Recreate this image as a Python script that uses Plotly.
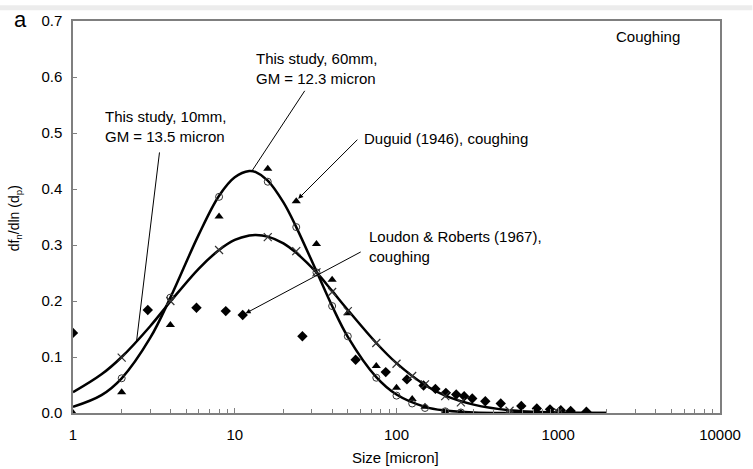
import plotly.graph_objects as go

# ---- fitted curves ----
curve_x = [1, 1.5, 2, 3, 4, 6, 8, 10, 12.3, 13.5, 16, 20, 24, 32, 40, 50, 75, 100, 150, 200, 300, 500, 1000, 2000]
curve_60mm = [0.011, 0.032, 0.062, 0.134, 0.206, 0.319, 0.388, 0.421, 0.432, 0.430, 0.415, 0.376, 0.332, 0.253,
              0.191, 0.136, 0.064, 0.033, 0.011, 0.0045, 0.0011, 0.0001, 0.0, 0.0]
curve_10mm = [0.037, 0.069, 0.100, 0.155, 0.199, 0.258, 0.291, 0.309, 0.317, 0.318, 0.315, 0.303, 0.286, 0.251,
              0.218, 0.184, 0.125, 0.089, 0.050, 0.031, 0.015, 0.005, 0.001, 0.0001]

# ---- measured points ----
study_x = [2, 4, 8, 16, 24, 32, 40, 50, 75, 100, 125, 150, 200, 250, 500, 1000]
study_60mm = [0.062, 0.206, 0.386, 0.413, 0.332, 0.251, 0.191, 0.137, 0.063, 0.031, 0.017, 0.009, 0.003, 0.001, 0.0, 0.0]
study_10mm = [0.099, 0.200, 0.291, 0.314, 0.289, 0.251, 0.216, 0.182, 0.125, 0.088, 0.066, 0.051, 0.030, 0.019, 0.004, 0.001]

duguid_x = [1, 2, 4, 8, 16, 24, 32, 40, 50, 75, 100, 125, 150, 200, 250, 500, 1000]
duguid_y = [0.0, 0.037, 0.157, 0.351, 0.436, 0.378, 0.302, 0.238, 0.178, 0.084, 0.045, 0.025, 0.011, 0.002, 0.0, 0.0, 0.0]

loudon_x = [1, 2.9, 5.8, 8.8, 11.2, 26.2, 55.9, 85.8, 116, 147, 174, 202, 234, 262, 294, 354, 441, 591, 737, 889,
            1037, 1193, 1493]
loudon_y = [0.143, 0.184, 0.188, 0.182, 0.175, 0.137, 0.095, 0.073, 0.060, 0.049, 0.043, 0.036, 0.033, 0.030, 0.026,
            0.021, 0.017, 0.0125, 0.008, 0.0065, 0.005, 0.0035, 0.0023]

y_ticks = [0.0, 0.1, 0.2, 0.3, 0.4, 0.5, 0.6, 0.7]
x_ticks = [1, 10, 100, 1000, 10000]
x_ticklabels = ["1", "10", "100", "1000", "10000"]

FONT = "Arial, Liberation Sans, sans-serif"
AX = "#7f7f7f"

fig = go.Figure()
fig.add_trace(go.Scatter(x=curve_x, y=curve_60mm, mode="lines", line=dict(color="black", width=2.5, shape="spline"),
                         showlegend=False, hoverinfo="skip"))
fig.add_trace(go.Scatter(x=curve_x, y=curve_10mm, mode="lines", line=dict(color="black", width=2.5, shape="spline"),
                         showlegend=False, hoverinfo="skip"))
fig.add_trace(go.Scatter(x=loudon_x, y=loudon_y, mode="markers",
                         marker=dict(symbol="diamond", size=8, color="black"), showlegend=False))
fig.add_trace(go.Scatter(x=duguid_x, y=duguid_y, mode="markers",
                         marker=dict(symbol="triangle-up", size=8, color="black"), showlegend=False))
fig.add_trace(go.Scatter(x=study_x, y=study_60mm, mode="markers",
                         marker=dict(symbol="circle-open", size=7, color="#333", line=dict(width=1)),
                         showlegend=False))
fig.add_trace(go.Scatter(x=study_x, y=study_10mm, mode="markers",
                         marker=dict(symbol="x-thin-open", size=8, color="#333", line=dict(width=1.2)),
                         showlegend=False))

ann_font = dict(family=FONT, size=15, color="black")
texts = [
    ("This study, 10mm,<br>GM = 13.5 micron", 0.183, 0.512),
    ("This study, 60mm,<br>GM = 12.3 micron", 1.120, 0.615),
    ("Duguid (1946), coughing", 1.784, 0.491),
    ("Loudon &amp; Roberts (1967),<br>coughing", 1.820, 0.2965),
    ("Coughing", 3.3425, 0.672),
]
for t, x, y in texts:
    fig.add_annotation(text=t, x=x, y=y, xref="x", yref="y", showarrow=False, xanchor="left", yanchor="middle",
                       align="left", font=ann_font)

# leader lines (tail -> head)
leaders = [
    ((0.5358, 0.468), (0.3915, 0.125), 0),
    ((1.4387, 0.578), (1.108, 0.433), 0),
    ((1.7674, 0.4907), (1.3924, 0.3825), 2),
    ((1.788, 0.289), (1.0673, 0.178), 2),
]
for (tx, ty), (hx, hy), head in leaders:
    fig.add_annotation(text="", x=hx, y=hy, ax=tx, ay=ty, xref="x", yref="y", axref="x", ayref="y",
                       showarrow=True, arrowhead=head, arrowsize=1, arrowwidth=1, arrowcolor="black", standoff=0)

fig.add_annotation(text="a", x=-0.081, y=1.005, xref="paper", yref="paper", showarrow=False,
                   font=dict(family=FONT, size=22, color="black"), xanchor="center", yanchor="middle")
fig.add_annotation(text="df<sub>n</sub>/dln (d<sub>p</sub>)", x=-0.090, y=0.496, xref="paper", yref="paper",
                   showarrow=False, textangle=-90, font=dict(family=FONT, size=14, color="black"),
                   xanchor="center", yanchor="middle")
fig.add_annotation(text="Size [micron]", x=0.498, y=-0.113, xref="paper", yref="paper", showarrow=False,
                   font=dict(family=FONT, size=15, color="black"), xanchor="center", yanchor="middle")

fig.add_shape(type="rect", xref="paper", yref="paper", x0=-0.12, x1=1.05, y0=1.0276, y1=1.04,
              line=dict(width=0), fillcolor="#ececec", layer="below")

fig.update_layout(
    width=753, height=469,
    margin=dict(l=73, r=23, t=14, b=56),
    paper_bgcolor="white", plot_bgcolor="white",
    font=dict(family=FONT, size=15, color="black"),
    showlegend=False,
    xaxis=dict(type="log", range=[0, 4], tickvals=x_ticks, ticktext=x_ticklabels,
               ticks="inside", ticklen=5, tickcolor=AX, tickwidth=1,
               showline=True, linecolor=AX, linewidth=1.5, mirror=True, showgrid=False, zeroline=False,
               ticklabelstandoff=7,
               minor=dict(ticks="inside", ticklen=4, tickcolor=AX, dtick="D1", showgrid=False)),
    yaxis=dict(range=[0, 0.7], tickvals=y_ticks, tickformat=".1f",
               ticks="inside", ticklen=4, tickcolor=AX, tickwidth=1,
               showline=True, linecolor=AX, linewidth=1.5, mirror=True, showgrid=False, zeroline=False,
               ticklabelstandoff=6),
)

fig.write_html("out.html")
